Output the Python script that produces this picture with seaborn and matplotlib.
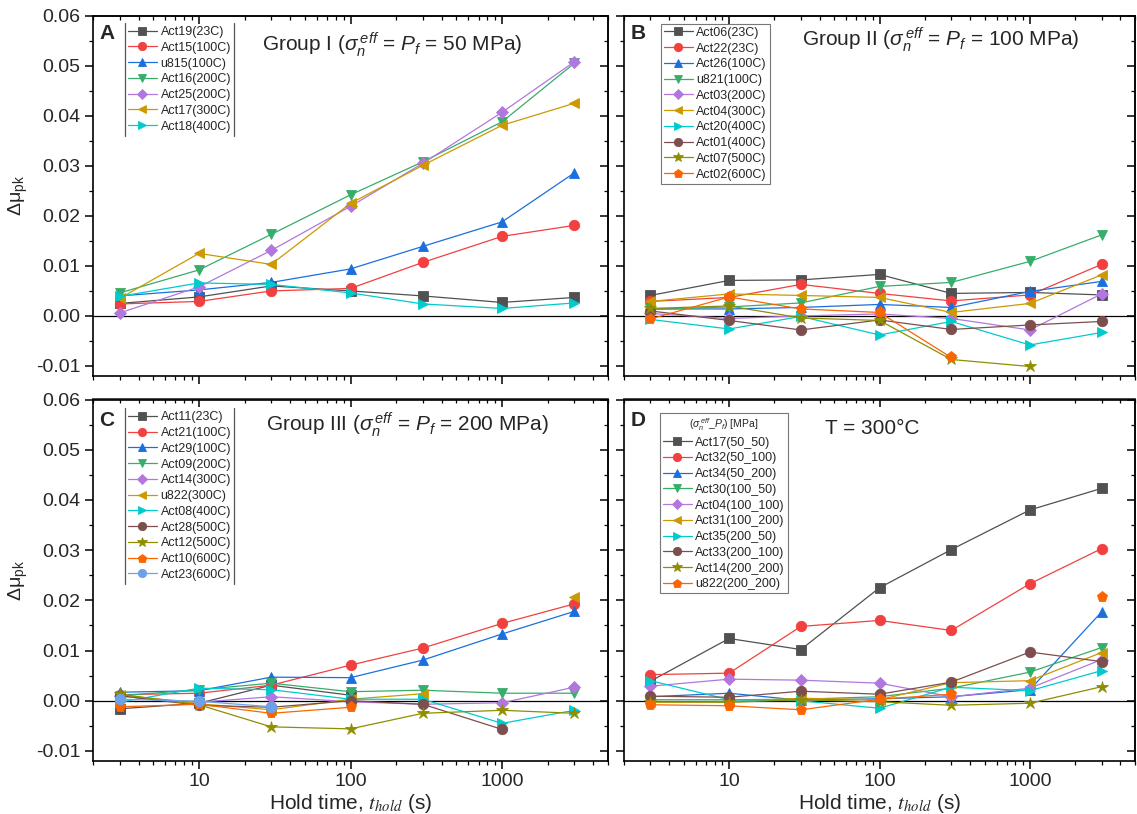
import numpy as np
import pandas as pd
import matplotlib
matplotlib.use("Agg")
import matplotlib.pyplot as plt
import matplotlib.ticker as mticker
from matplotlib.lines import Line2D
import seaborn as sns

sns.set_theme(style="ticks")
plt.rcParams['font.family'] = ['Liberation Sans', 'DejaVu Sans']
plt.rcParams['mathtext.fontset'] = 'custom'
plt.rcParams['mathtext.rm'] = 'Liberation Sans'
plt.rcParams['mathtext.it'] = 'Liberation Sans:italic'
plt.rcParams['mathtext.bf'] = 'Liberation Sans:bold'
plt.rcParams['axes.unicode_minus'] = False

nan = np.nan
hold_times = [3, 10, 30, 100, 300, 1000, 3000]

# ---- Panel A: Group I (50 MPa)
a_labels = ["Act19(23C)", "Act15(100C)", "u815(100C)", "Act16(200C)",
            "Act25(200C)", "Act17(300C)", "Act18(400C)"]
a_act19 = [0.0025, 0.0038, 0.0060, 0.0050, 0.0040, 0.0027, 0.0037]
a_act15 = [0.0024, 0.0029, 0.0050, 0.0055, 0.0107, 0.0159, 0.0181]
a_u815 = [0.0040, 0.0052, 0.0067, 0.0094, 0.0139, 0.0188, 0.0286]
a_act16 = [0.0046, 0.0092, 0.0163, 0.0242, 0.0308, 0.0388, 0.0505]
a_act25 = [0.0006, 0.0058, 0.0131, 0.0219, 0.0305, 0.0407, 0.0508]
a_act17 = [0.0035, 0.0125, 0.0103, 0.0225, 0.0301, 0.0381, 0.0425]
a_act18 = [0.0039, 0.0066, 0.0063, 0.0046, 0.0024, 0.0015, 0.0026]

# ---- Panel B: Group II (100 MPa)
b_labels = ["Act06(23C)", "Act22(23C)", "Act26(100C)", "u821(100C)", "Act03(200C)",
            "Act04(300C)", "Act20(400C)", "Act01(400C)", "Act07(500C)", "Act02(600C)"]
b_act06 = [0.0041, 0.0071, 0.0072, 0.0083, 0.0045, 0.0047, 0.0042]
b_act22 = [0.0029, 0.0037, 0.0063, 0.0045, 0.0030, 0.0042, 0.0103]
b_act26 = [0.0014, 0.0014, 0.0017, 0.0023, 0.0017, 0.0049, 0.0069]
b_u821 = [0.0013, 0.0018, 0.0026, 0.0059, 0.0067, 0.0109, 0.0162]
b_act03 = [0.0005, -0.0005, 0.0000, 0.0004, -0.0005, -0.0028, 0.0044]
b_act04 = [0.0029, 0.0044, 0.0041, 0.0037, 0.0007, 0.0025, 0.0082]
b_act20 = [-0.0007, -0.0026, -0.0001, -0.0038, -0.0011, -0.0058, -0.0033]
b_act01 = [0.0010, -0.0009, -0.0028, -0.0008, -0.0027, -0.0018, -0.0011]
b_act07 = [0.0015, 0.0020, -0.0004, -0.0009, -0.0087, -0.0101, nan]
b_act02 = [-0.0006, 0.0038, 0.0014, 0.0007, -0.0083, nan, nan]

# ---- Panel C: Group III (200 MPa)
c_labels = ["Act11(23C)", "Act21(100C)", "Act29(100C)", "Act09(200C)", "Act14(300C)",
            "u822(300C)", "Act08(400C)", "Act28(500C)", "Act12(500C)", "Act10(600C)",
            "Act23(600C)"]
c_act11 = [-0.0016, -0.0005, 0.0031, 0.0011, nan, nan, nan]
c_act21 = [0.0012, 0.0015, 0.0031, 0.0071, 0.0105, 0.0154, 0.0193]
c_act29 = [0.0017, 0.0020, 0.0047, 0.0046, 0.0081, 0.0133, 0.0178]
c_act09 = [0.0010, 0.0022, 0.0035, 0.0018, 0.0021, 0.0015, 0.0015]
c_act14 = [0.0009, -0.0003, 0.0008, -0.0002, -0.0007, -0.0004, 0.0027]
c_u822 = [0.0012, -0.0006, -0.0018, 0.0003, 0.0014, nan, 0.0206]
c_act08 = [-0.0003, 0.0025, 0.0022, 0.0003, 0.0003, -0.0045, -0.0019]
c_act28 = [0.0010, -0.0009, -0.0013, 0.0000, -0.0007, -0.0057, nan]
c_act12 = [0.0013, -0.0008, -0.0052, -0.0056, -0.0025, -0.0019, -0.0025]
c_act10 = [-0.0012, -0.0007, -0.0025, -0.0013, nan, nan, nan]
c_act23 = [0.0003, -0.0001, -0.0012, nan, nan, nan, nan]

# ---- Panel D: T = 300 C
d_labels = ["Act17(50_50)", "Act32(50_100)", "Act34(50_200)", "Act30(100_50)",
            "Act04(100_100)", "Act31(100_200)", "Act35(200_50)", "Act33(200_100)",
            "Act14(200_200)", "u822(200_200)"]
d_act17 = [0.0039, 0.0124, 0.0102, 0.0225, 0.0301, 0.0380, 0.0423]
d_act32 = [0.0052, 0.0055, 0.0148, 0.0160, 0.0140, 0.0233, 0.0303]
d_act34 = [0.0008, 0.0015, 0.0001, 0.0004, 0.0008, 0.0022, 0.0177]
d_act30 = [0.0002, 0.0002, 0.0003, 0.0008, 0.0025, 0.0057, 0.0106]
d_act04 = [0.0029, 0.0043, 0.0041, 0.0035, 0.0008, 0.0025, 0.0082]
d_act31 = [-0.0003, -0.0002, 0.0005, 0.0002, 0.0036, 0.0040, 0.0096]
d_act35 = [0.0040, 0.0002, 0.0000, -0.0015, 0.0027, 0.0020, 0.0060]
d_act33 = [0.0009, 0.0007, 0.0019, 0.0013, 0.0037, 0.0097, 0.0078]
d_act14 = [-0.0002, -0.0003, 0.0002, -0.0002, -0.0009, -0.0005, 0.0028]
d_u822 = [-0.0008, -0.0010, -0.0018, 0.0003, 0.0013, nan, 0.0206]

# Origin-like palette and marker sequence
palette = ["#515151", "#F14040", "#1A6FDF", "#37AD6B", "#B177DE", "#CC9900",
           "#00CBCC", "#7D4E4E", "#8E8E00", "#FB6501", "#6CA2EA"]
markers = ["s", "o", "^", "v", "D", "<", ">", "o", "*", "p", "o"]
msizes = [6.5, 7.5, 7.5, 7.5, 6.5, 7.5, 7.5, 7.5, 9, 8, 7.5]

panels = [
    ("A", a_labels, [a_act19, a_act15, a_u815, a_act16, a_act25, a_act17, a_act18],
     r"Group I ($\sigma_n^{\,eff}$ = $P_f$ = 50 MPa)", (0.58, 0.92)),
    ("B", b_labels, [b_act06, b_act22, b_act26, b_u821, b_act03, b_act04, b_act20,
                     b_act01, b_act07, b_act02],
     r"Group II ($\sigma_n^{\,eff}$ = $P_f$ = 100 MPa)", (0.62, 0.933)),
    ("C", c_labels, [c_act11, c_act21, c_act29, c_act09, c_act14, c_u822, c_act08,
                     c_act28, c_act12, c_act10, c_act23],
     r"Group III ($\sigma_n^{\,eff}$ = $P_f$ = 200 MPa)", (0.61, 0.93)),
    ("D", d_labels, [d_act17, d_act32, d_act34, d_act30, d_act04, d_act31, d_act35,
                     d_act33, d_act14, d_u822],
     "T = 300°C", (0.485, 0.92)),
]

W, H = 1137, 814
fig = plt.figure(figsize=(W / 100, H / 100), dpi=100)
rects = {
    "A": [93 / W, 1 - 376 / H, 515 / W, 360.3 / H],
    "B": [624 / W, 1 - 376 / H, 511 / W, 360.3 / H],
    "C": [93 / W, 1 - 761 / H, 515 / W, 361.5 / H],
    "D": [624 / W, 1 - 761 / H, 511 / W, 361.5 / H],
}
leg_anchor = {"A": (0.062, 0.98), "B": (0.072, 0.978), "C": (0.062, 0.976), "D": (0.07, 0.963)}

legends = {}
for letter, labels, series, title, tpos in panels:
    ax = fig.add_axes(rects[letter])
    for i, (lab, vals) in enumerate(zip(labels, series)):
        df = pd.DataFrame({"t": hold_times, "v": vals})
        # split into contiguous runs so gaps (missing points) are not bridged
        seg = df["v"].isna().cumsum()
        df = df.assign(seg=seg).dropna()
        first = True
        for _, chunk in df.groupby("seg"):
            kw = dict(label=lab) if first else {}
            sns.lineplot(data=chunk, x="t", y="v", ax=ax, color=palette[i],
                         marker=markers[i], markersize=msizes[i],
                         markeredgecolor=palette[i], markeredgewidth=0.6,
                         linewidth=0.9, estimator=None, sort=False, **kw)
            first = False
    ax.axhline(0, color="black", lw=0.9, zorder=0)
    ax.set_xscale("log")
    ax.set_xlim(2, 5000)
    ax.set_ylim(-0.012, 0.06)
    ax.yaxis.set_major_locator(mticker.MultipleLocator(0.01))
    ax.yaxis.set_minor_locator(mticker.MultipleLocator(0.005))
    ax.yaxis.set_major_formatter(mticker.FormatStrFormatter("%.2f"))
    ax.xaxis.set_major_locator(mticker.LogLocator(base=10, numticks=10))
    ax.xaxis.set_minor_locator(mticker.LogLocator(base=10, subs=np.arange(2, 10), numticks=20))
    ax.xaxis.set_major_formatter(mticker.FuncFormatter(lambda v, p: f"{v:g}"))
    ax.xaxis.set_minor_formatter(mticker.NullFormatter())
    for sp in ax.spines.values():
        sp.set_visible(True)
        sp.set_linewidth(1.2)
        sp.set_color("black")
    ax.tick_params(which="both", direction="out", color="black")
    ax.tick_params(which="major", length=5.5, width=1.1, labelsize=14)
    ax.tick_params(which="minor", length=3, width=0.9)
    # mirrored ticks on top / right pointing inward
    sec_x = ax.secondary_xaxis("top")
    sec_x.set_xscale("log") if hasattr(sec_x, "set_xscale") else None
    sec_x.xaxis.set_major_locator(mticker.LogLocator(base=10, numticks=10))
    sec_x.xaxis.set_minor_locator(mticker.LogLocator(base=10, subs=np.arange(2, 10), numticks=20))
    sec_x.tick_params(which="both", direction="in", labeltop=False, color="black")
    sec_x.tick_params(which="major", length=5.5, width=1.1)
    sec_x.tick_params(which="minor", length=3, width=0.9)
    sec_x.spines["top"].set_linewidth(1.2)
    sec_y = ax.secondary_yaxis("right")
    sec_y.yaxis.set_major_locator(mticker.MultipleLocator(0.01))
    sec_y.yaxis.set_minor_locator(mticker.MultipleLocator(0.005))
    sec_y.tick_params(which="both", direction="in", labelright=False, color="black")
    sec_y.tick_params(which="major", length=5.5, width=1.1)
    sec_y.tick_params(which="minor", length=3, width=0.9)
    sec_y.spines["right"].set_linewidth(1.2)

    ax.set_xlabel("")
    ax.set_ylabel("")
    if letter in ("B", "D"):
        ax.tick_params(labelleft=False)
    else:
        ax.set_ylabel("Δμ$_{\\mathrm{pk}}$", fontsize=14, labelpad=4)
    if letter in ("A", "B"):
        ax.tick_params(labelbottom=False)
    else:
        ax.set_xlabel("Hold time, $t_{hold}$ (s)", fontsize=15, labelpad=1,
                      math_fontfamily="stix")
    ax.text(0.012, 0.95 if letter in ("A", "B") else 0.943, letter, transform=ax.transAxes,
            fontsize=15, fontweight="bold", ha="left", va="center")
    ax.text(tpos[0], tpos[1], title, transform=ax.transAxes, fontsize=15,
            ha="center", va="center")
    leg = ax.legend(loc="upper left", bbox_to_anchor=leg_anchor[letter], borderaxespad=0,
                    fontsize=9, frameon=True, fancybox=False, edgecolor="#555555",
                    handlelength=2.3, handletextpad=0.3, labelspacing=0.3,
                    borderpad=0.25, markerscale=0.8,
                    title=(r"($\sigma_n^{\,eff}$_$P_f$) [MPa]" if letter == "D" else None),
                    title_fontsize=7.5)
    leg.get_frame().set_linewidth(0.8)
    legends[letter] = (ax, leg)

# Panels A and C: legend frame shows only its two vertical sides
fig.canvas.draw()
renderer = fig.canvas.get_renderer()
for letter in ("A", "C"):
    ax, leg = legends[letter]
    bb = leg.get_window_extent(renderer).transformed(fig.transFigure.inverted())
    leg.get_frame().set_visible(False)
    for xx in (bb.x0, bb.x1):
        fig.add_artist(Line2D([xx, xx], [bb.y0, bb.y1], transform=fig.transFigure,
                              color="#555555", lw=0.9))

fig.savefig("out.png", dpi=100)
